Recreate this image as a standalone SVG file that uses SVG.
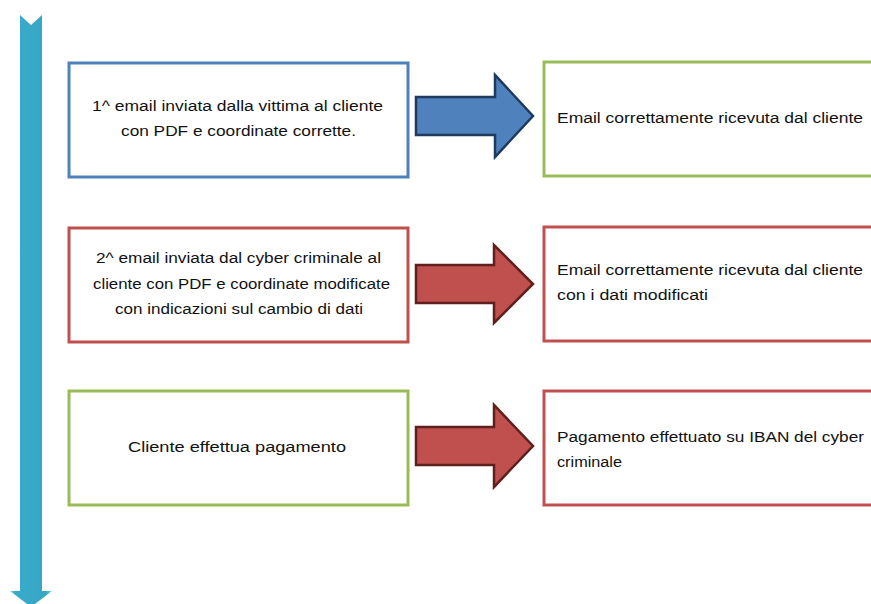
<svg xmlns="http://www.w3.org/2000/svg" width="871" height="604" viewBox="0 0 871 604">
<defs>
<linearGradient id="vbar" x1="0" y1="0" x2="1" y2="0">
<stop offset="0" stop-color="#8fd0e0"/>
<stop offset="0.12" stop-color="#3aaccb"/>
<stop offset="0.85" stop-color="#35a6c4"/>
<stop offset="1" stop-color="#8fd0e0"/>
</linearGradient>
</defs>
<style>
.box{fill:#fff;stroke-width:3}
.blue{stroke:#4f81bd}
.green{stroke:#9bbb59}
.red{stroke:#c0504d}
.t{font-family:"Liberation Sans",Arial,sans-serif;font-size:15.5px;fill:#111}
.barrow{fill:#4f81bd;stroke:#1f3a5c;stroke-width:2.5;stroke-linejoin:miter}
.rarrow{fill:#c0504d;stroke:#5e1f1d;stroke-width:2.5;stroke-linejoin:miter}
</style>
<rect width="871" height="604" fill="#fff"/>
<g id="timeline">
<polygon points="20,15 31,25 42,15 42,591 52,591 31,607 10,591 20,591" fill="url(#vbar)"/>
</g>
<g id="n1">
<rect class="box blue" x="69" y="63" width="339" height="114"/>
<text class="t" x="92" y="111" textLength="291" lengthAdjust="spacingAndGlyphs">1^ email inviata dalla vittima al cliente</text>
<text class="t" x="121" y="136" textLength="235" lengthAdjust="spacingAndGlyphs">con PDF e coordinate corrette.</text>
</g>
<g id="n2">
<rect class="box green" x="544" y="62" width="340" height="114"/>
<text class="t" x="557" y="123" textLength="306" lengthAdjust="spacingAndGlyphs">Email correttamente ricevuta dal cliente</text>
</g>
<g id="n3">
<rect class="box red" x="69" y="228" width="339" height="114"/>
<text class="t" x="96" y="263" textLength="285" lengthAdjust="spacingAndGlyphs">2^ email inviata dal cyber criminale al</text>
<text class="t" x="93" y="289" textLength="297" lengthAdjust="spacingAndGlyphs">cliente con PDF e coordinate modificate</text>
<text class="t" x="115" y="314" textLength="248" lengthAdjust="spacingAndGlyphs">con indicazioni sul cambio di dati</text>
</g>
<g id="n4">
<rect class="box red" x="544" y="227" width="340" height="114"/>
<text class="t" x="557" y="275" textLength="306" lengthAdjust="spacingAndGlyphs">Email correttamente ricevuta dal cliente</text>
<text class="t" x="557" y="300" textLength="151" lengthAdjust="spacingAndGlyphs">con i dati modificati</text>
</g>
<g id="n5">
<rect class="box green" x="69" y="391" width="339" height="114"/>
<text class="t" x="128" y="452" textLength="218" lengthAdjust="spacingAndGlyphs">Cliente effettua pagamento</text>
</g>
<g id="n6">
<rect class="box red" x="544" y="391" width="340" height="114"/>
<text class="t" x="557" y="442" textLength="307" lengthAdjust="spacingAndGlyphs">Pagamento effettuato su IBAN del cyber</text>
<text class="t" x="557" y="467" textLength="65" lengthAdjust="spacingAndGlyphs">criminale</text>
</g>
<g id="connectors">
<path class="barrow" d="M416,97 H495 V75 L533,116 L495,157 V135 H416 Z"/>
<path class="rarrow" d="M416,265 H494 V245 L533,284 L494,323 V303 H416 Z"/>
<path class="rarrow" d="M416,427 H494 V405 L533,446 L494,487 V465 H416 Z"/>
</g>
</svg>
